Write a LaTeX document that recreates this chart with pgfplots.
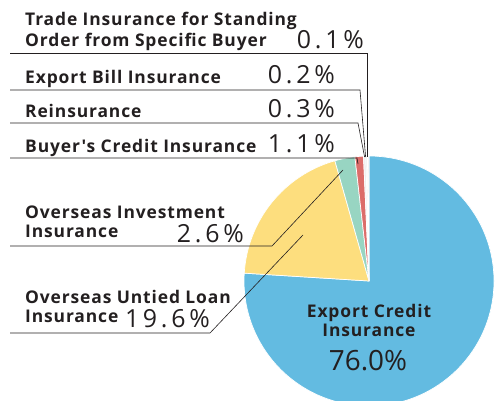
\documentclass[border=0pt]{standalone}
\usepackage{pgfplots}
\pgfplotsset{compat=1.18}
\usepackage{fontspec}
\setmainfont{Open Sans}
\newfontfamily\labfont[LetterSpace=5]{Open Sans}
\newfontfamily\numfont[LetterSpace=15]{Open Sans}
\definecolor{cblue}{HTML}{63BBE1}
\definecolor{cyellow}{HTML}{FDDE7E}
\definecolor{cgreen}{HTML}{98D5C2}
\definecolor{cred}{HTML}{DC6D6A}
\definecolor{cthin}{HTML}{EEEEEE}
\definecolor{ctext}{HTML}{231F20}
% #1 = cumulative share before the slice (%), #2 = share (%), #3 = colour
\newcommand\pieslice[3]{%
  \fill[#3, draw=white, line width=0.7pt] (axis cs:369,281) -- ++({90-3.6*(#1)}:125bp)
    arc[start angle={90-3.6*(#1)}, end angle={90-3.6*(#1+#2)}, radius=125bp] -- cycle;}
\newcommand\lab[1]{{\labfont\bfseries\fontsize{17.5}{20}\selectfont #1}}
\newcommand\num[1]{{\numfont\fontsize{25}{27}\selectfont #1}}
\begin{document}
\begin{tikzpicture}
\begin{axis}[
  scale only axis, width=495bp, height=401bp,
  xmin=0, xmax=495, ymin=0, ymax=401, y dir=reverse,
  hide axis, clip=true, clip bounding box=upper bound]
% slices: Export Credit 76.0, Overseas Untied Loan 19.6, Overseas Investment 2.6,
% Buyer's Credit 1.1, Reinsurance 0.3, Export Bill 0.2, Trade Standing Order 0.1
\pieslice{0}{76.0}{cblue}
\pieslice{76.0}{19.6}{cyellow}
\pieslice{95.6}{2.6}{cgreen}
\pieslice{98.2}{1.1}{cred}
\pieslice{99.3}{0.3}{cthin}
\pieslice{99.6}{0.2}{cthin}
\pieslice{99.8}{0.2}{cthin}
% leader lines
\draw[ctext, line width=0.6pt] (axis cs:10,53) -- (axis cs:367.7,53) -- (axis cs:367.7,157);
\draw[ctext, line width=0.6pt] (axis cs:10,90) -- (axis cs:360,90) -- (axis cs:365.6,157);
\draw[ctext, line width=0.6pt] (axis cs:10,123) -- (axis cs:358,123) -- (axis cs:364.6,157);
\draw[ctext, line width=0.6pt] (axis cs:10,158) -- (axis cs:357,158) -- (axis cs:358,164);
\draw[ctext, line width=0.6pt] (axis cs:10,246) -- (axis cs:272,246) -- (axis cs:343,170);
\draw[ctext, line width=0.6pt] (axis cs:10,333) -- (axis cs:210,333) -- (axis cs:303,235);
% labels
\node[anchor=base west, inner sep=0, text=ctext] at (axis cs:25,26) {\lab{Trade Insurance for Standing}};
\node[anchor=base west, inner sep=0, text=ctext] at (axis cs:25,46) {\lab{Order from Specific Buyer}};
\node[anchor=base east, inner sep=0, text=ctext] at (axis cs:364,48) {\num{0.1\%}};
\node[anchor=base west, inner sep=0, text=ctext] at (axis cs:25,83) {\lab{Export Bill Insurance}};
\node[anchor=base east, inner sep=0, text=ctext] at (axis cs:335,83) {\num{0.2\%}};
\node[anchor=base west, inner sep=0, text=ctext] at (axis cs:25,117) {\lab{Reinsurance}};
\node[anchor=base east, inner sep=0, text=ctext] at (axis cs:335,117) {\num{0.3\%}};
\node[anchor=base west, inner sep=0, text=ctext] at (axis cs:25,152) {\lab{Buyer's Credit Insurance}};
\node[anchor=base east, inner sep=0, text=ctext] at (axis cs:335,152) {\num{1.1\%}};
\node[anchor=base west, inner sep=0, text=ctext] at (axis cs:25,218) {\lab{Overseas Investment}};
\node[anchor=base west, inner sep=0, text=ctext] at (axis cs:25,237) {\lab{Insurance}};
\node[anchor=base east, inner sep=0, text=ctext] at (axis cs:244,242) {\num{2.6\%}};
\node[anchor=base west, inner sep=0, text=ctext] at (axis cs:25,303) {\lab{Overseas Untied Loan}};
\node[anchor=base west, inner sep=0, text=ctext] at (axis cs:25,322) {\lab{Insurance}};
\node[anchor=base east, inner sep=0, text=ctext] at (axis cs:210,327) {\num{19.6\%}};
\node[anchor=base, inner sep=0, text=ctext] at (axis cs:369,317) {\lab{Export Credit}};
\node[anchor=base, inner sep=0, text=ctext] at (axis cs:369,336) {\lab{Insurance}};
\node[anchor=base, inner sep=0, text=ctext] at (axis cs:368,370) {{\fontsize{28}{30}\selectfont 76.0\%}};
\end{axis}
\pgfresetboundingbox
\useasboundingbox (current axis.south west) rectangle (current axis.north east);
\end{tikzpicture}
\end{document}
